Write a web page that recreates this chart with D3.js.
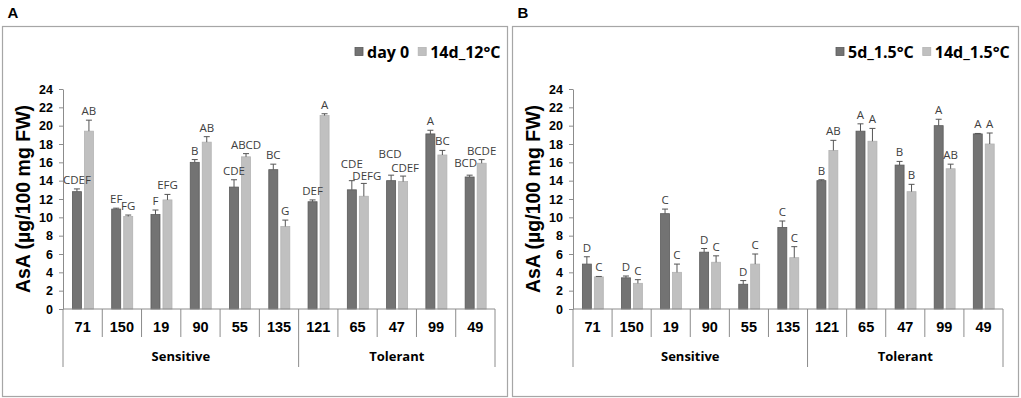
<!DOCTYPE html>
<html>
<head>
<meta charset="utf-8">
<script src="https://cdn.jsdelivr.net/npm/d3@7"></script>
<style>
  body { margin: 0; background: #fff; }
  svg { display: block; }
</style>
</head>
<body>
<svg id="chart" width="1021" height="398"></svg>
<script>
// genotypes, grouped into sensitive / tolerant
var categories = ["71", "150", "19", "90", "55", "135", "121", "65", "47", "99", "49"];
var groups = [
  { name: "Sensitive", from: 0, to: 6 },
  { name: "Tolerant", from: 6, to: 11 }
];
var yTicks = [0, 2, 4, 6, 8, 10, 12, 14, 16, 18, 20, 22, 24];

// panel A
var aSeries = ["day 0", "14d_12°C"];
var aDay0 = [12.8, 10.9, 10.3, 16.0, 13.3, 15.2, 11.7, 13.0, 14.0, 19.1, 14.4];
var aDay0Err = [0.3, 0.1, 0.5, 0.3, 0.8, 0.6, 0.2, 1.0, 0.6, 0.4, 0.2];
var aDay0Lbl = ["CDEF", "EF", "F", "B", "CDE", "BC", "DEF", "CDE", "BCD", "A", "BCD"];
var a14d = [19.4, 10.1, 11.9, 18.2, 16.6, 9.0, 21.1, 12.3, 13.9, 16.8, 15.9];
var a14dErr = [1.2, 0.15, 0.6, 0.6, 0.35, 0.7, 0.2, 1.4, 0.6, 0.5, 0.4];
var a14dLbl = ["AB", "FG", "EFG", "AB", "ABCD", "G", "A", "DEFG", "CDEF", "BC", "BCDE"];

// panel B
var bSeries = ["5d_1.5°C", "14d_1.5°C"];
var b5d = [4.9, 3.4, 10.4, 6.2, 2.7, 8.9, 14.0, 19.4, 15.7, 20.0, 19.1];
var b5dErr = [0.8, 0.2, 0.5, 0.4, 0.4, 0.7, 0.1, 0.8, 0.4, 0.7, 0.05];
var b5dLbl = ["D", "D", "C", "D", "D", "C", "B", "A", "B", "A", "A"];
var b14d = [3.5, 2.8, 4.0, 5.1, 4.9, 5.6, 17.3, 18.3, 12.8, 15.3, 18.0];
var b14dErr = [0.05, 0.4, 0.9, 0.7, 1.1, 1.2, 1.1, 1.4, 0.8, 0.5, 1.2];
var b14dLbl = ["C", "C", "C", "C", "C", "C", "AB", "A", "B", "AB", "A"];

var fills = ["#737373", "#c0c0c0"];
var strokes = ["#5a5a5a", "#b3b3b3"];
var axisCol = "#8c8c8c";
var sans = "Liberation Sans, Arial, sans-serif";

// hand-moved letter labels (panel|category|series -> dx, dy), as in the original figure
var nudge = {
  "A|65|0": [0, -8], "A|65|1": [3, 2],
  "A|47|0": [-1, -12], "A|47|1": [2, 1],
  "A|49|0": [-4, -3]
};

var svg = d3.select("#chart");

function drawPanel(p) {
  var g = svg.append("g");

  // frame
  g.append("rect")
    .attr("x", p.frame[0]).attr("y", 26.5)
    .attr("width", p.frame[1] - p.frame[0]).attr("height", 370)
    .attr("fill", "none").attr("stroke", "#a6a6a6").attr("stroke-width", 1.2);

  g.append("text")
    .attr("x", p.frame[0] + 5).attr("y", 18)
    .attr("font-family", sans)
    .attr("font-weight", "bold").attr("font-size", 15)
    .text(p.letter);

  var y = d3.scaleLinear().domain([0, 24]).range([309, 89]);
  var x = d3.scaleBand().domain(categories).range([p.x0, p.x1]);
  var bw = x.bandwidth();
  var inner = d3.scaleBand().domain([0, 1])
    .range([bw * 0.24, bw * 0.775]).paddingInner(0.25);

  // y axis
  var yAxis = d3.axisLeft(y).tickValues(yTicks).tickSizeInner(4).tickSizeOuter(0).tickPadding(6);
  var ya = g.append("g").attr("transform", "translate(" + p.x0 + ",0)").call(yAxis);
  ya.select(".domain").attr("stroke", axisCol);
  ya.selectAll(".tick line").attr("stroke", axisCol);
  ya.selectAll(".tick text")
    .attr("font-family", sans)
    .attr("font-weight", "bold").attr("font-size", 12.5).attr("fill", "#000");

  g.append("text")
    .attr("transform", "translate(" + (p.x0 - 33) + ",199) rotate(-90)")
    .attr("text-anchor", "middle")
    .attr("font-family", sans)
    .attr("font-weight", "bold").attr("font-size", 19.5)
    .text("AsA (µg/100 mg FW)");

  var series = [
    { v: p.v0, e: p.e0, l: p.l0 },
    { v: p.v1, e: p.e1, l: p.l1 }
  ];
  var bars = g.append("g"), labels = g.append("g");
  series.forEach(function (s, si) {
    categories.forEach(function (c, i) {
      var bx = x(c) + inner(si);
      var w = inner.bandwidth();
      var cx = bx + w / 2;
      bars.append("rect")
        .attr("x", bx).attr("y", y(s.v[i]))
        .attr("width", w).attr("height", y(0) - y(s.v[i]))
        .attr("fill", fills[si]).attr("stroke", strokes[si]).attr("stroke-width", 0.8);
      var top = y(s.v[i] + s.e[i]);
      bars.append("line")
        .attr("x1", cx).attr("x2", cx).attr("y1", y(s.v[i])).attr("y2", top)
        .attr("stroke", "#555").attr("stroke-width", 1);
      bars.append("line")
        .attr("x1", cx - 3).attr("x2", cx + 3).attr("y1", top).attr("y2", top)
        .attr("stroke", "#555").attr("stroke-width", 1);
      var n = nudge[p.letter + "|" + c + "|" + si] || [0, 0];
      labels.append("text")
        .attr("x", cx + n[0]).attr("y", top - 5 + n[1])
        .attr("text-anchor", "middle")
        .attr("font-family", "Open Sans, sans-serif")
        .attr("font-size", 11.5).attr("fill", "#404040")
        .text(s.l[i]);
    });
  });

  // category axis
  var base = y(0);
  g.append("line")
    .attr("x1", p.x0).attr("x2", p.x1).attr("y1", base).attr("y2", base)
    .attr("stroke", axisCol);
  var bounds = categories.map(function (c) { return x(c); }).concat([p.x1]);
  var groupEdges = groups.map(function (d) { return d.from; }).concat([categories.length]);
  bounds.forEach(function (bx, i) {
    var long = groupEdges.indexOf(i) >= 0;
    g.append("line")
      .attr("x1", bx).attr("x2", bx).attr("y1", base).attr("y2", base + (long ? 58 : 28))
      .attr("stroke", axisCol);
  });
  g.selectAll(".cat").data(categories).enter().append("text")
    .attr("x", function (d) { return x(d) + bw / 2; })
    .attr("y", base + 23)
    .attr("text-anchor", "middle")
    .attr("font-family", sans)
    .attr("font-weight", "bold").attr("font-size", 14.5)
    .text(function (d) { return d; });
  g.selectAll(".grp").data(groups).enter().append("text")
    .attr("x", function (d) { return (bounds[d.from] + bounds[d.to]) / 2; })
    .attr("y", base + 52)
    .attr("text-anchor", "middle")
    .attr("font-family", "Open Sans, sans-serif")
    .attr("font-weight", "bold").attr("font-size", 13)
    .text(function (d) { return d.name; });

  // legend
  var lg = g.append("g").attr("transform", "translate(" + p.legend + ",0)");
  var lx = 0;
  p.names.forEach(function (n, i) {
    lg.append("rect").attr("x", lx).attr("y", 47.5).attr("width", 8).attr("height", 8)
      .attr("fill", fills[i]).attr("stroke", strokes[i]).attr("stroke-width", 0.8);
    var t = lg.append("text").attr("x", lx + 12).attr("y", 57.5)
      .attr("font-family", "Open Sans, sans-serif")
      .attr("font-weight", "bold").attr("font-size", 16)
      .text(n);
    lx += 12 + t.node().getComputedTextLength() + 9;
  });
}

drawPanel({
  letter: "A", frame: [2.5, 507.5], x0: 63, x1: 495, legend: 355,
  names: aSeries,
  v0: aDay0, e0: aDay0Err, l0: aDay0Lbl,
  v1: a14d, e1: a14dErr, l1: a14dLbl
});
drawPanel({
  letter: "B", frame: [512.5, 1018.5], x0: 573, x1: 1003, legend: 836,
  names: bSeries,
  v0: b5d, e0: b5dErr, l0: b5dLbl,
  v1: b14d, e1: b14dErr, l1: b14dLbl
});
</script>
</body>
</html>
